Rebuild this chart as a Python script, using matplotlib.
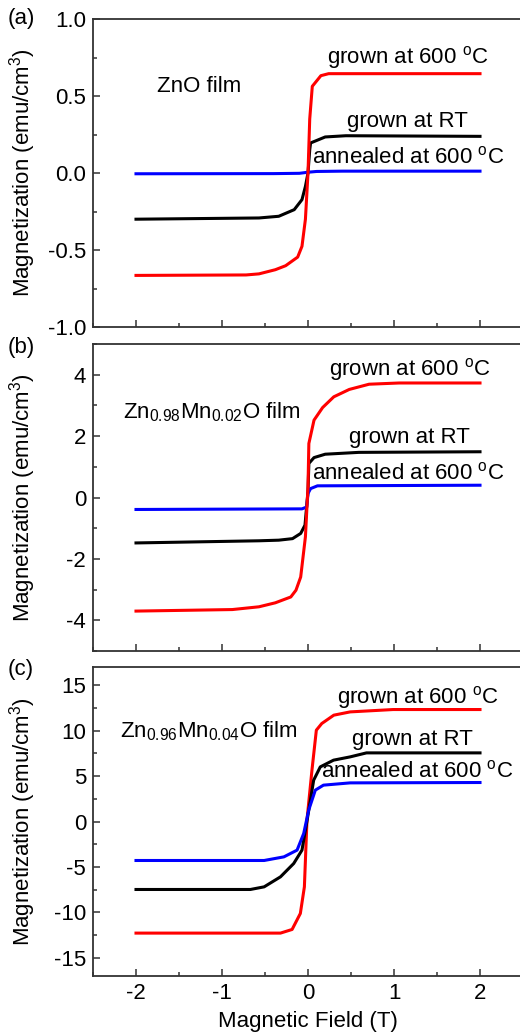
import numpy as np
import matplotlib
matplotlib.use("Agg")
import matplotlib.pyplot as plt
from matplotlib.ticker import MultipleLocator, FormatStrFormatter

plt.rcParams['font.family'] = ['Liberation Sans', 'DejaVu Sans']
plt.rcParams['mathtext.fontset'] = 'custom'
plt.rcParams['mathtext.rm'] = 'Liberation Sans'
plt.rcParams['mathtext.it'] = 'Liberation Sans'
plt.rcParams['axes.unicode_minus'] = False

# (a) ZnO film
a_red_x = [-2, -0.72, -0.57, -0.38, -0.26, -0.12, -0.07, -0.03, 0.0, 0.02, 0.05, 0.15, 0.24, 2]
a_red_y = [-0.665, -0.662, -0.655, -0.628, -0.602, -0.546, -0.476, -0.3, 0.0, 0.35, 0.563, 0.632, 0.645, 0.645]
a_black_x = [-2, -0.57, -0.34, -0.16, -0.07, -0.03, 0.0, 0.02, 0.03, 0.2, 0.44, 2]
a_black_y = [-0.30, -0.292, -0.281, -0.238, -0.173, -0.087, 0.0, 0.15, 0.195, 0.234, 0.242, 0.238]
a_blue_x = [-2, -0.4, -0.1, 0.0, 0.1, 0.4, 2]
a_blue_y = [-0.005, -0.004, -0.002, 0.005, 0.01, 0.012, 0.012]

# (b) Zn0.98Mn0.02O film
b_red_x = [-2, -0.88, -0.57, -0.38, -0.2, -0.14, -0.085, -0.03, 0.0, 0.01, 0.07, 0.17, 0.3, 0.48, 0.71, 1.06, 2]
b_red_y = [-3.70, -3.65, -3.56, -3.43, -3.24, -3.02, -2.59, -1.28, 0.35, 1.76, 2.52, 2.93, 3.28, 3.52, 3.69, 3.73, 3.73]
b_black_x = [-2, -0.57, -0.34, -0.18, -0.085, -0.035, 0.0, 0.01, 0.07, 0.2, 0.59, 2]
b_black_y = [-1.48, -1.41, -1.39, -1.34, -1.17, -0.90, 0.2, 1.11, 1.30, 1.41, 1.47, 1.49]
b_blue_x = [-2, -0.07, -0.015, 0.0, 0.03, 0.11, 2]
b_blue_y = [-0.39, -0.37, -0.31, 0.13, 0.29, 0.38, 0.40]

# (c) Zn0.96Mn0.04O film
c_red_x = [-2, -0.32, -0.185, -0.089, -0.042, -0.012, 0.046, 0.097, 0.16, 0.30, 0.49, 0.99, 2]
c_red_y = [-12.28, -12.28, -11.88, -10.12, -7.19, 0.15, 5.65, 10.05, 10.78, 11.70, 12.06, 12.32, 12.32]
c_black_x = [-2, -0.67, -0.51, -0.32, -0.166, -0.07, -0.01, 0.066, 0.143, 0.297, 0.49, 0.68, 2]
c_black_y = [-7.48, -7.48, -7.19, -6.09, -4.62, -3.15, 0.15, 4.55, 6.01, 6.75, 7.11, 7.55, 7.55]
c_blue_x = [-2, -0.51, -0.28, -0.127, -0.05, 0.008, 0.085, 0.18, 0.49, 2]
c_blue_y = [-4.29, -4.29, -3.89, -3.15, -1.32, 1.25, 3.45, 4.00, 4.25, 4.29]

film_labels = ["ZnO film", r"Zn$_{0.98}$Mn$_{0.02}$O film", r"Zn$_{0.96}$Mn$_{0.04}$O film"]
panel_tags = ["(a)", "(b)", "(c)"]
ylims = [1.0, 5, 17]
ymajor = [0.5, 2, 5]
yfmt = ["%.1f", "%d", "%d"]

fig = plt.figure(figsize=(5.2, 10.34), dpi=100)
W, H = 520.0, 1034.0
boxes = [(19, 327), (344, 651), (667, 976)]
curves = [
    [(a_black_x, a_black_y, 'black'), (a_blue_x, a_blue_y, 'blue'), (a_red_x, a_red_y, 'red')],
    [(b_black_x, b_black_y, 'black'), (b_blue_x, b_blue_y, 'blue'), (b_red_x, b_red_y, 'red')],
    [(c_red_x, c_red_y, 'red'), (c_black_x, c_black_y, 'black'), (c_blue_x, c_blue_y, 'blue')],
]
# text positions (data coords): film label, 600C, RT, annealed
text_pos = [
    [(-1.76, 0.56), (0.22, 0.75), (0.45, 0.335), (0.05, 0.104)],
    [(-2.15, 2.79), (0.24, 4.17), (0.48, 1.95), (0.05, 0.78)],
    [(-2.19, 9.97), (0.34, 13.64), (0.51, 9.06), (0.15, 5.46)],
]
tag_y = [18, 347, 670]

fs = 16
axes = []
for i in range(3):
    top, bot = boxes[i]
    ax = fig.add_axes([93 / W, 1 - bot / H, 430 / W, (bot - top) / H])
    axes.append(ax)
    for x, y, c in curves[i]:
        ax.plot(x, y, color=c, lw=2.2, solid_joinstyle='round')
    ax.set_xlim(-2.5, 2.5)
    ax.set_ylim(-ylims[i], ylims[i])
    ax.xaxis.set_major_locator(MultipleLocator(1))
    ax.xaxis.set_minor_locator(MultipleLocator(0.5))
    ax.yaxis.set_major_locator(MultipleLocator(ymajor[i]))
    ax.yaxis.set_minor_locator(MultipleLocator(ymajor[i] / 2))
    ax.yaxis.set_major_formatter(FormatStrFormatter(yfmt[i]))
    ax.tick_params(which='both', direction='in', top=False, right=False,
                   labelsize=fs, color='#333333')
    ax.tick_params(which='major', length=5, width=1.1, pad=5)
    ax.tick_params(which='minor', length=3, width=1.1)
    for s in ax.spines.values():
        s.set_color('#333333')
        s.set_linewidth(1.3)
    if i < 2:
        ax.tick_params(labelbottom=False)
    ax.set_ylabel("Magnetization (emu/cm$^3$)", fontsize=fs)
    ax.yaxis.set_label_coords(-0.128, 0.5)
    tp = text_pos[i]
    ax.text(tp[0][0], tp[0][1], film_labels[i], fontsize=fs, va='center', ha='left')
    ax.text(tp[1][0], tp[1][1], r"grown at 600 $^{\rm o}$C", fontsize=fs, va='center', ha='left')
    ax.text(tp[2][0], tp[2][1], "grown at RT", fontsize=fs, va='center', ha='left')
    ax.text(tp[3][0], tp[3][1], r"annealed at 600 $^{\rm o}$C", fontsize=fs, va='center', ha='left')
    fig.text(8 / W, 1 - tag_y[i] / H, panel_tags[i], fontsize=fs, va='center', ha='left')

axes[2].set_xlabel("Magnetic Field (T)", fontsize=fs)
axes[2].xaxis.set_label_coords(0.5, -0.112)

fig.savefig("out.png", dpi=100)
